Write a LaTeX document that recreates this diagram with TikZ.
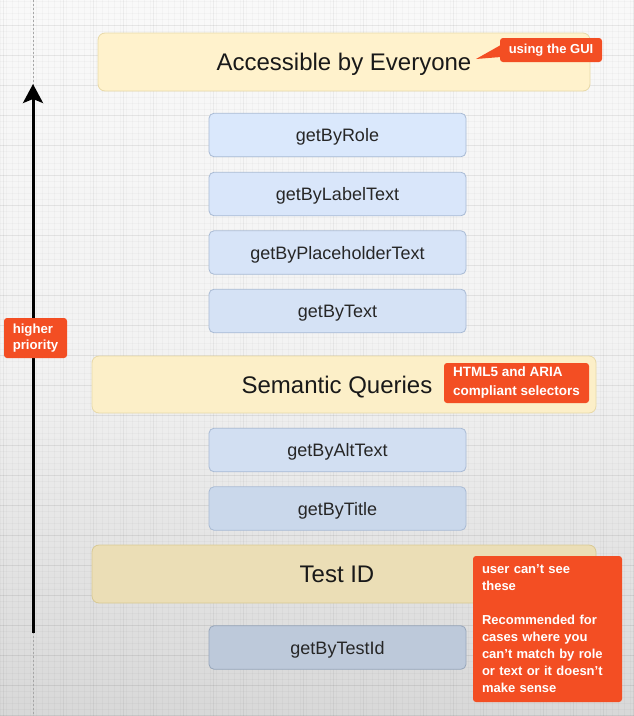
\documentclass[tikz,border=0pt]{standalone}
\usepackage{fontspec}
\setmainfont{Liberation Sans}
\usetikzlibrary{arrows.meta,shapes.geometric,calc}
\definecolor{callout}{RGB}{243,78,35}
\definecolor{ylwA}{HTML}{FFF2CC}
\definecolor{ylwB}{HTML}{FCEFC8}
\definecolor{ylwC}{HTML}{EBDEB6}
\definecolor{ylwBd}{HTML}{E8D9A8}
\definecolor{ylwBdC}{HTML}{D8C993}
\definecolor{bl1}{HTML}{DAE8FC}
\definecolor{bl2}{HTML}{D9E6FA}
\definecolor{bl3}{HTML}{D7E4F8}
\definecolor{bl4}{HTML}{D5E2F5}
\definecolor{bl5}{HTML}{D2DFF2}
\definecolor{bl6}{HTML}{CAD8EB}
\definecolor{bl7}{HTML}{BDC9DA}
\definecolor{blBd}{HTML}{A8BAD4}
\definecolor{blBd2}{HTML}{97A6BB}
\definecolor{bgtop}{HTML}{F9F9F9}
\definecolor{bgbot}{HTML}{D8D8D8}
\tikzset{
  tier/.style={draw=ylwBd, line width=0.8pt, rounded corners=7pt, minimum width=504pt, minimum height=57pt, text=black!90, font=\fontsize{24}{28}\selectfont, text height=17pt, text depth=0pt},
  query/.style={draw=blBd, line width=0.8pt, rounded corners=5pt, minimum width=257pt, minimum height=43.5pt, text=black!85, font=\fontsize{18}{22}\selectfont, text height=13pt, text depth=0pt},
  note/.style={fill=callout, rounded corners=3pt, text=white, align=left, font=\bfseries\fontsize{13}{17}\selectfont, inner sep=0pt},
  guide/.style={draw=black!35, line width=0.5pt, dash pattern=on 2pt off 2pt},
}
\begin{document}
\begin{tikzpicture}[x=1pt,y=-1pt]
\useasboundingbox (0,0) rectangle (634,716);
% background with grid
\shade[top color=bgtop, bottom color=bgbot, middle color=black!5] (0,0) rectangle (634,716);
\foreach \gx in {0,6,...,634} \draw[black, opacity=0.025, line width=0.4pt] (\gx,0) -- (\gx,716);
\foreach \gy in {1,7,...,716} \draw[black, opacity=0.025, line width=0.4pt] (0,\gy) -- (634,\gy);
\foreach \gx in {3,33,...,634} \draw[black, opacity=0.05, line width=0.6pt] (\gx,0) -- (\gx,716);
\foreach \gy in {25,55,...,716} \draw[black, opacity=0.05, line width=0.6pt] (0,\gy) -- (634,\gy);
% guide line
\coordinate (gtop) at (33,0);
\coordinate (gbot) at (33,716);
\draw[guide] (gtop) -- (gbot);
% tiers
\node[tier, fill=ylwA, minimum width=492pt, minimum height=58pt] (acc) at (344,62) {Accessible by Everyone};
\node[tier, fill=ylwB] (sem) at (344,384.5) {Semantic Queries\hspace*{14pt}};
\node[tier, fill=ylwC, draw=ylwBdC, minimum height=58pt] (tid) at (344,574) {Test ID\hspace*{14pt}};
% queries
\node[query, fill=bl1] (role) at (337.5,135) {getByRole};
\node[query, fill=bl2] (label) at (337.5,194) {getByLabelText};
\node[query, fill=bl3] (placeholder) at (337.5,252.5) {getByPlaceholderText};
\node[query, fill=bl4] (text) at (337.5,311) {getByText};
\node[query, fill=bl5] (alt) at (337.5,450) {getByAltText};
\node[query, fill=bl6] (title) at (337.5,508.5) {getByTitle};
\node[query, fill=bl7, draw=blBd2] (testid) at (337.5,647.5) {getByTestId};
% arrow
\coordinate (abot) at (33,633);
\coordinate (atop) at (33,84);
\draw[line width=3pt, -{Stealth[length=19pt,width=20pt,inset=4pt]}] (abot) -- (atop);
% callouts
\node[note, minimum width=102pt, minimum height=24pt] (gui) at (551,50) {using the GUI};
\coordinate (guitip) at (476,59);
\fill[callout] ($(gui.west)+(1,-5)$) -- (guitip) -- ($(gui.west)+(1,7)$) -- cycle;
\node[note, minimum width=145pt, minimum height=40pt, font=\bfseries\fontsize{13.5}{19}\selectfont] (html) at (516.5,383) {HTML5 and ARIA\\compliant selectors};
\node[note, minimum width=63pt, minimum height=40pt, font=\bfseries\fontsize{13.2}{16.5}\selectfont] (higher) at (35.5,338) {higher\\priority};
\node[note, text width=131pt, inner xsep=9pt, minimum height=146pt] (user) at (547.5,629) {user can’t see\\these\\[17pt]Recommended for\\cases where you\\can’t match by role\\or text or it doesn’t\\make sense};
\end{tikzpicture}
\end{document}
